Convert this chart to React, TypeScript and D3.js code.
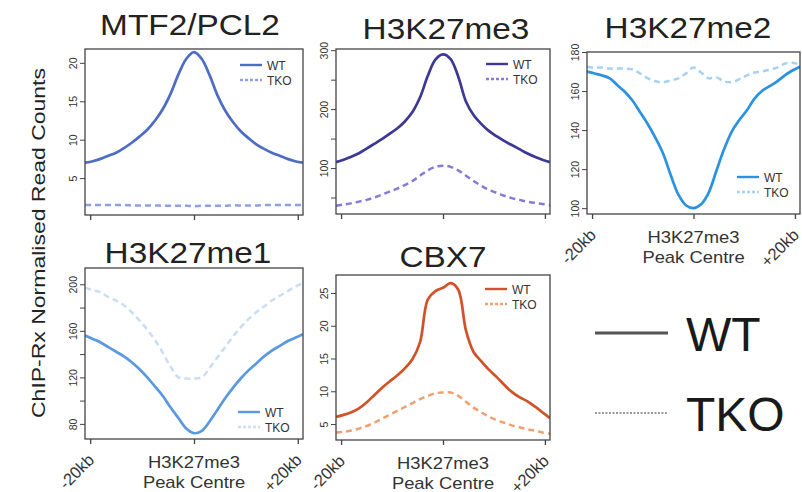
import React, { useRef, useEffect } from 'react';
import * as d3 from 'd3';

// distance from H3K27me3 peak centre, kb
const positions = [
  -21, -19.5, -18, -16.5, -15, -13.5, -12, -10.5, -9, -7.5, -6, -4.5, -3, -1.5, 0,
  1.5, 3, 4.5, 6, 7.5, 9, 10.5, 12, 13.5, 15, 16.5, 18, 19.5, 21,
];

const mtf2WT = [7.0, 7.2, 7.5, 7.9, 8.3, 8.9, 9.6, 10.4, 11.3, 12.5, 14.0, 16.0, 18.5, 20.5, 21.4,
  20.5, 18.4, 15.8, 13.8, 12.3, 11.1, 10.2, 9.4, 8.8, 8.3, 7.9, 7.5, 7.2, 7.0];
const mtf2TKO = [1.5, 1.5, 1.5, 1.5, 1.5, 1.5, 1.45, 1.45, 1.45, 1.45, 1.4, 1.4, 1.4, 1.4, 1.35,
  1.4, 1.4, 1.4, 1.4, 1.45, 1.45, 1.45, 1.45, 1.5, 1.5, 1.5, 1.5, 1.5, 1.5];

const me3WT = [110, 114, 119, 125, 133, 141, 149, 158, 167, 179, 195, 220, 256, 284, 293,
  285, 255, 213, 190, 175, 163, 154, 146, 139, 132, 125, 119, 114, 110];
const me3TKO = [36, 38, 40, 43, 46, 50, 55, 60, 65, 71, 78, 87, 96, 102, 104,
  102, 96, 87, 78, 70, 63, 58, 53, 49, 46, 43, 41, 39, 37];

const me2WT = [170, 169, 168, 166.5, 163, 159.5, 155, 149, 143, 136, 128, 117, 107, 101.5, 100,
  102, 108, 119, 130, 139, 145, 150, 156, 160, 162.5, 165, 168, 170.5, 172.5];
const me2TKO = [172.5, 172, 172, 171.5, 171.5, 171.5, 171, 169, 166.5, 165, 164.5, 165.5, 166.5, 169, 172,
  169.5, 166.5, 167, 165, 164.5, 166, 168, 169.5, 170, 171, 172, 174, 174.5, 173.5];

const me1WT = [156, 153, 150, 146, 142, 138, 133, 127, 120, 112, 104, 94, 85, 76, 72,
  74, 82, 92, 102, 111, 119, 126, 132, 138, 143, 147, 151, 154, 157];
const me1TKO = [197, 195, 193, 189, 186, 182, 176, 169, 161, 152, 141, 129, 120, 119, 119,
  120, 128, 137, 146, 155, 163, 170, 176, 181, 186, 190, 194, 198, 201];

const cbx7WT = [6.1, 6.4, 6.8, 7.4, 8.3, 9.4, 10.5, 11.5, 12.4, 13.5, 14.9, 17.5, 24.0, 25.3, 25.8,
  26.5, 25.5, 19.3, 16.0, 14.6, 13.3, 12.2, 11.0, 9.9, 9.1, 8.5, 7.7, 6.8, 5.9];
const cbx7TKO = [3.7, 3.8, 4.0, 4.3, 4.7, 5.2, 5.8, 6.4, 7.0, 7.6, 8.2, 8.8, 9.3, 9.7, 9.8,
  9.8, 9.3, 8.4, 7.5, 6.8, 6.1, 5.6, 5.2, 4.8, 4.5, 4.2, 4.0, 3.7, 3.5];

const xTickValues = [-20, 0, 20];
const xTickLabels = ['-20kb', '', '+20kb'];
const seriesNames = ['WT', 'TKO'];

const panels = [
  {
    id: 'p1', title: 'MTF2/PCL2', titleX: 190, titleY: 35, wt: mtf2WT, tko: mtf2TKO,
    yDomain: [0.2, 21.8], yTicks: [5, 10, 15, 20], yLabels: [5, 10, 15, 20],
    box: [85, 303, 49, 215], wtColor: '#4d6cc4', tkoColor: '#8f9fe6',
    legend: [240, 65], xLabels: false,
  },
  {
    id: 'p2', title: 'H3K27me3', titleX: 446, titleY: 39, wt: me3WT, tko: me3TKO,
    yDomain: [22, 302], yTicks: [50, 100, 150, 200, 250, 300], yLabels: [100, 200, 300],
    box: [336, 550, 49, 214], wtColor: '#3c3896', tkoColor: '#8878d8',
    legend: [486, 64], xLabels: false,
  },
  {
    id: 'p3', title: 'H3K27me2', titleX: 688, titleY: 38, wt: me2WT, tko: me2TKO,
    yDomain: [97, 180], yTicks: [100, 120, 140, 160, 180], yLabels: [100, 120, 140, 160, 180],
    box: [587, 800, 52, 214], wtColor: '#2a92e0', tkoColor: '#a9d1f2',
    legend: [737, 177], xLabels: true,
  },
  {
    id: 'p4', title: 'H3K27me1', titleX: 188, titleY: 263, wt: me1WT, tko: me1TKO,
    yDomain: [67, 214], yTicks: [80, 100, 120, 140, 160, 180, 200], yLabels: [80, 120, 160, 200],
    box: [85, 303, 268, 439], wtColor: '#5a98e0', tkoColor: '#cbdcf4',
    legend: [238, 412], xLabels: true,
  },
  {
    id: 'p5', title: 'CBX7', titleX: 443, titleY: 267, wt: cbx7WT, tko: cbx7TKO,
    yDomain: [2.56, 27.75], yTicks: [5, 10, 15, 20, 25], yLabels: [5, 10, 15, 20, 25],
    box: [336, 550, 275, 440], wtColor: '#d05228', tkoColor: '#f0a070',
    legend: [485, 289], xLabels: true,
  },
];

const FONT = '"Liberation Sans", Arial, Helvetica, sans-serif';

const App = () => {
  const svgRef = useRef<SVGSVGElement>(null);

  useEffect(() => {
    const svg = d3.select(svgRef.current);
    svg.selectAll('*').remove();

    panels.forEach(p => {
      const [x0, x1, y0, y1] = p.box;
      const x = d3.scaleLinear().domain([-21, 21]).range([x0, x1]);
      const y = d3.scaleLinear().domain(p.yDomain).range([y1, y0]);
      const g = svg.append('g');

      g.append('clipPath')
        .attr('id', 'clip-' + p.id)
        .append('rect')
        .attr('x', x0).attr('y', y0)
        .attr('width', x1 - x0).attr('height', y1 - y0);

      const line = d3
        .line<number>()
        .x((d, i) => x(positions[i]))
        .y(d => y(d))
        .curve(d3.curveCatmullRom.alpha(0.5));

      // TKO dashed, WT solid
      g.append('path')
        .datum(p.tko)
        .attr('d', line)
        .attr('clip-path', `url(#clip-${p.id})`)
        .attr('fill', 'none')
        .attr('stroke', p.tkoColor)
        .attr('stroke-width', 2.5)
        .attr('stroke-dasharray', '6,4');
      g.append('path')
        .datum(p.wt)
        .attr('d', line)
        .attr('clip-path', `url(#clip-${p.id})`)
        .attr('fill', 'none')
        .attr('stroke', p.wtColor)
        .attr('stroke-width', 2.7);

      // frame
      g.append('rect')
        .attr('x', x0).attr('y', y0)
        .attr('width', x1 - x0).attr('height', y1 - y0)
        .attr('fill', 'none')
        .attr('stroke', '#444')
        .attr('stroke-width', 1.3);

      // y axis
      const yAxis = g
        .append('g')
        .attr('transform', `translate(${x0},0)`)
        .call(
          d3.axisLeft(y)
            .tickValues(p.yTicks)
            .tickSize(5)
            .tickFormat(d => (p.yLabels.includes(+d) ? String(d) : ''))
        );
      yAxis.select('.domain').remove();
      yAxis.selectAll('.tick line').attr('stroke', '#444');
      yAxis
        .selectAll('.tick text')
        .attr('transform', 'rotate(-90)')
        .attr('x', 0)
        .attr('y', -8)
        .attr('dy', 0)
        .attr('text-anchor', 'middle')
        .attr('fill', '#333')
        .style('font-family', FONT)
        .style('font-size', '10.5px');

      // x axis
      const xAxis = g
        .append('g')
        .attr('transform', `translate(0,${y1})`)
        .call(d3.axisBottom(x).tickValues(xTickValues).tickSize(5).tickFormat(() => ''));
      xAxis.select('.domain').remove();
      xAxis.selectAll('.tick line').attr('stroke', '#444').attr('stroke-width', 1.3);

      if (p.xLabels) {
        xTickValues.forEach((v, i) => {
          if (!xTickLabels[i]) return;
          g.append('text')
            .attr('transform', `translate(${x(v) + 5},${y1 + 22}) rotate(-45)`)
            .attr('text-anchor', 'end')
            .attr('fill', '#333')
            .style('font-family', FONT)
            .style('font-size', '16.5px')
            .text(xTickLabels[i]);
        });
        const cx = x(0);
        g.append('text')
          .attr('transform', `translate(${cx},${y1 + 29}) scale(1.15,1)`)
          .attr('text-anchor', 'middle')
          .attr('fill', '#333')
          .style('font-family', FONT)
          .style('font-size', '16px')
          .text('H3K27me3');
        g.append('text')
          .attr('transform', `translate(${cx},${y1 + 49}) scale(1.15,1)`)
          .attr('text-anchor', 'middle')
          .attr('fill', '#333')
          .style('font-family', FONT)
          .style('font-size', '16px')
          .text('Peak Centre');
      }

      // title
      g.append('text')
        .attr('transform', `translate(${p.titleX},${p.titleY}) scale(1.15,1)`)
        .attr('text-anchor', 'middle')
        .attr('fill', '#222')
        .style('font-family', FONT)
        .style('font-size', '29px')
        .text(p.title);

      // small legend
      const [lx, ly] = p.legend;
      seriesNames.forEach((name, i) => {
        const yy = ly + i * 15;
        g.append('line')
          .attr('x1', lx).attr('x2', lx + 22)
          .attr('y1', yy).attr('y2', yy)
          .attr('stroke', i === 0 ? p.wtColor : p.tkoColor)
          .attr('stroke-width', 2.4)
          .attr('stroke-dasharray', i === 0 ? null : '3,2');
        g.append('text')
          .attr('x', lx + 27)
          .attr('y', yy + 4.5)
          .attr('fill', '#333')
          .style('font-family', FONT)
          .style('font-size', '12px')
          .text(name);
      });
    });

    // shared y label
    svg
      .append('text')
      .attr('transform', 'translate(45,243) rotate(-90)')
      .attr('text-anchor', 'middle')
      .attr('fill', '#222')
      .style('font-family', FONT)
      .style('font-size', '19px')
      .attr('textLength', 350)
      .attr('lengthAdjust', 'spacingAndGlyphs')
      .text('ChIP-Rx Normalised Read Counts');

    // big legend
    seriesNames.forEach((name, i) => {
      const yy = i === 0 ? 333 : 413;
      svg.append('line')
        .attr('x1', 595).attr('x2', 668)
        .attr('y1', yy).attr('y2', yy)
        .attr('stroke', i === 0 ? '#555' : '#999')
        .attr('stroke-width', i === 0 ? 3 : 2)
        .attr('stroke-dasharray', i === 0 ? null : '2,1.5');
      svg.append('text')
        .attr('x', 686)
        .attr('y', yy + 18)
        .attr('fill', '#1a1a1a')
        .style('font-family', FONT)
        .style('font-size', '48px')
        .text(name);
    });
  }, []);

  return (
    <svg
      ref={svgRef}
      width={802}
      height={492}
      style={{ position: 'absolute', left: 0, top: 0, background: '#fff' }}
    />
  );
};

export default App;
